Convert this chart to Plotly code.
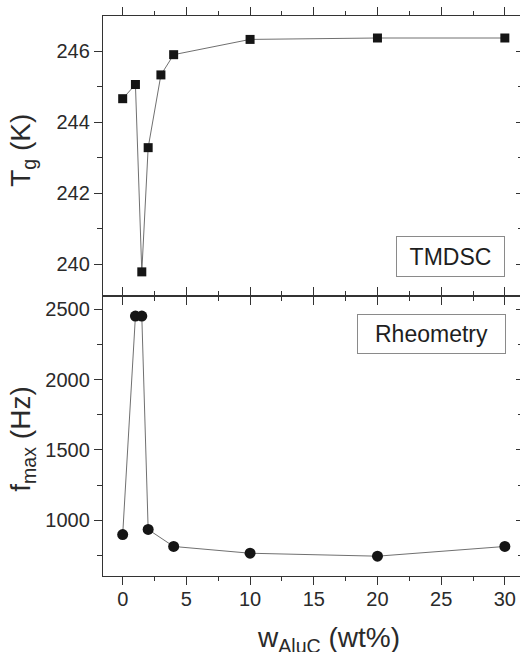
import plotly.graph_objects as go

# Data
w_tg = [0, 1, 1.5, 2, 3, 4, 10, 20, 30]
tg_vals = [244.66, 245.06, 239.78, 243.28, 245.33, 245.90, 246.33, 246.37, 246.37]

w_f = [0, 1, 1.5, 2, 4, 10, 20, 30]
f_vals = [898, 2452, 2452, 934, 813, 765, 744, 813]

x_ticks = [0, 5, 10, 15, 20, 25, 30]
tg_ticks = [240, 242, 244, 246]
f_ticks = [1000, 1500, 2000, 2500]

FONT = "Liberation Sans, Arial, sans-serif"
AX = "#333333"
MK = "#151515"
LN = "#707070"

fig = go.Figure()

fig.add_trace(go.Scatter(x=w_tg, y=tg_vals, mode="lines+markers", xaxis="x2", yaxis="y2",
                         line=dict(color=LN, width=1),
                         marker=dict(symbol="square", size=9, color=MK), showlegend=False))
fig.add_trace(go.Scatter(x=w_f, y=f_vals, mode="lines+markers", xaxis="x", yaxis="y",
                         line=dict(color=LN, width=1),
                         marker=dict(symbol="circle", size=11, color=MK), showlegend=False))

xr = [-1.546, 31.19]
yr_top = [239.1, 246.99]
yr_bot = [603, 2595]

xcommon = dict(range=xr, showline=True, linecolor=AX, linewidth=1.4, mirror="ticks",
               ticks="outside", ticklen=8, tickwidth=1.3, tickcolor=AX,
               tickvals=x_ticks, showgrid=False, zeroline=False,
               minor=dict(dtick=2.5, tick0=0, ticks="outside", ticklen=4, tickwidth=1.2, tickcolor=AX),
               tickfont=dict(family=FONT, size=20, color="#2a2a2a"))

ycommon = dict(showline=True, linecolor=AX, linewidth=1.4, mirror=False,
               ticks="outside", ticklen=8, tickwidth=1.3, tickcolor=AX,
               showgrid=False, zeroline=False,
               tickfont=dict(family=FONT, size=20, color="#2a2a2a"))

fig.update_layout(
    width=520, height=652,
    margin=dict(l=103, r=0, t=16, b=76),
    paper_bgcolor="white", plot_bgcolor="white",
    xaxis=dict(**xcommon, anchor="y", showticklabels=True, ticklabelstandoff=-3),
    xaxis2=dict(**xcommon, anchor="y2", showticklabels=False, matches="x"),
    yaxis=dict(**ycommon, domain=[0, 0.5], range=yr_bot, tickvals=f_ticks,
               minor=dict(dtick=250, tick0=0, ticks="outside", ticklen=5, tickwidth=1.2, tickcolor=AX)),
    yaxis2=dict(**ycommon, domain=[0.5, 1], range=yr_top, tickvals=tg_ticks,
                minor=dict(dtick=1, tick0=0, ticks="outside", ticklen=5, tickwidth=1.2, tickcolor=AX)),
    # right-side inward ticks (no line)
    yaxis3=dict(overlaying="y", side="right", range=yr_bot, tickvals=f_ticks, showline=False,
                ticks="inside", ticklen=4, tickwidth=1.2, tickcolor=AX, showticklabels=False,
                showgrid=False, zeroline=False,
                minor=dict(dtick=250, tick0=0, ticks="inside", ticklen=2, tickwidth=1.1, tickcolor=AX)),
    yaxis4=dict(overlaying="y2", side="right", range=yr_top, tickvals=tg_ticks, showline=False,
                ticks="inside", ticklen=4, tickwidth=1.2, tickcolor=AX, showticklabels=False,
                showgrid=False, zeroline=False,
                minor=dict(dtick=1, tick0=0, ticks="inside", ticklen=2, tickwidth=1.1, tickcolor=AX)),
)

# invisible traces to activate the right tick axes
fig.add_trace(go.Scatter(x=[None], y=[None], xaxis="x", yaxis="y3", showlegend=False, hoverinfo="skip"))
fig.add_trace(go.Scatter(x=[None], y=[None], xaxis="x2", yaxis="y4", showlegend=False, hoverinfo="skip"))

TF = dict(family=FONT, size=28, color="#2a2a2a")
annots = [
    dict(text="T<sub>g</sub> (K)", x=-0.192, y=0.761, textangle=-90),
    dict(text="f<sub>max</sub> (Hz)", x=-0.192, y=0.245, textangle=-90),
]
for a in annots:
    fig.add_annotation(text=a["text"], xref="paper", yref="paper", x=a["x"], y=a["y"],
                       textangle=a["textangle"], showarrow=False, font=TF,
                       xanchor="center", yanchor="middle")

fig.add_annotation(text="w<sub>AluC</sub> (wt%)", xref="paper", yref="paper", x=0.54, y=-0.114,
                   showarrow=False, font=TF, xanchor="center", yanchor="middle")

BF = dict(family=FONT, size=23, color="#1e1e1e")
fig.add_annotation(text="TMDSC", xref="paper", yref="paper", x=0.834, y=0.570,
                   showarrow=False, font=BF, xanchor="center", yanchor="middle",
                   bordercolor="#8a8a8a", borderwidth=1, width=105, height=37, bgcolor="white")
fig.add_annotation(text="Rheometry", xref="paper", yref="paper", x=0.788, y=0.432,
                   showarrow=False, font=BF, xanchor="center", yanchor="middle",
                   bordercolor="#8a8a8a", borderwidth=1, width=145, height=36, bgcolor="white")

fig.write_html("out.html", config={"displayModeBar": False},
               post_script="document.body.style.margin='0px';document.body.style.overflow='hidden';")
